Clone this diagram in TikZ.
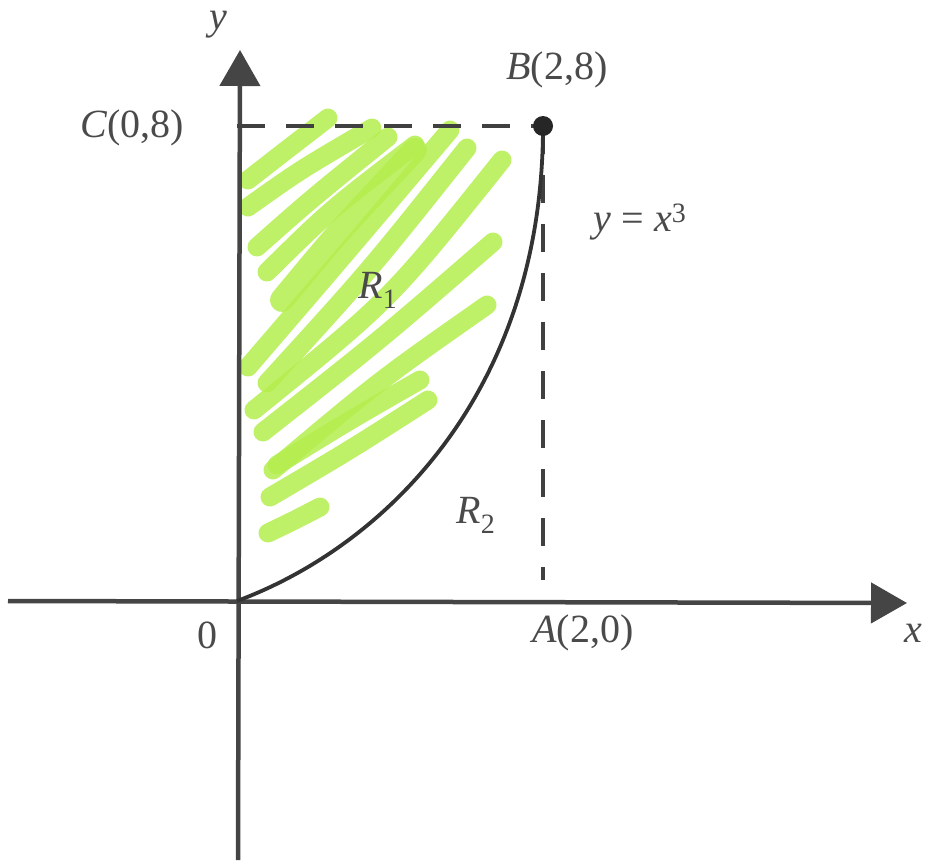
\documentclass[tikz,border=0pt]{standalone}
\usepackage{fontspec}
\setmainfont{Liberation Serif}
\usetikzlibrary{arrows.meta}
\definecolor{axisgray}{HTML}{454545}
\definecolor{limehl}{HTML}{B4EE4E}
\definecolor{txtgray}{HTML}{4A4A4A}
\tikzset{
  axisline/.style={line width=4.5pt, draw=axisgray, -{Triangle[length=36pt,width=40pt]}},
  curveline/.style={line width=3.8pt, draw=black!80},
  dashline/.style={line width=4.5pt, draw=black!75, dash pattern=on 28pt off 21pt},
  hl/.style={draw=limehl, line width=19pt, line cap=round, opacity=0.85},
  lbl/.style={text=txtgray, font=\fontsize{40}{44}\selectfont, inner sep=0pt}
}
\begin{document}
\begin{tikzpicture}[x=1pt,y=-1pt]
\useasboundingbox (0,0) rectangle (932,860);
% highlighter strokes
\draw[hl] (248,180) .. controls (280,155) .. (328,118);
\draw[hl] (248,207) .. controls (300,170) .. (372,128);
\draw[hl] (257,247) .. controls (310,200) .. (388,137);
\draw[hl] (267,272) .. controls (330,210) .. (415,145);
\draw[hl, line width=24pt] (282,300) .. controls (340,230) .. (415,150);
\draw[hl] (248,367) .. controls (340,260) .. (450,130);
\draw[hl] (267,383) .. controls (370,270) .. (467,148);
\draw[hl] (254,410) .. controls (390,300) .. (502,160);
\draw[hl] (263,432) .. controls (380,340) .. (493,242);
\draw[hl] (273,470) .. controls (380,380) .. (487,305);
\draw[hl] (270,497) .. controls (350,450) .. (428,400);
\draw[hl] (277,465) .. controls (350,420) .. (420,380);
\draw[hl] (268,533) .. controls (295,520) .. (320,507);
% coordinates
\coordinate (O) at (237,601);
\coordinate (A) at (543,601);
\coordinate (Atop) at (543,580);
\coordinate (B) at (543,126);
\coordinate (C) at (237,126);
\coordinate (ybot) at (238,860);
\coordinate (ytop) at (240,50);
\coordinate (xleft) at (8,601);
\coordinate (xtip) at (907,603);
% axes
\draw[axisline] (ybot) -- (ytop);
\draw[axisline] (xleft) -- (xtip);
% dashed lines
\draw[dashline] (C) -- (B);
\draw[dashline] (B) -- (Atop);
% curve
\draw[curveline] (O) .. controls (390,544) and (543,387) .. (B);
\fill[black!85] (B) circle[radius=10pt];
% labels
\node[lbl] (ylab) at (218,25) {\textit{y}};
\node[lbl] (xlab) at (913,633) {\textit{x}};
\node[lbl] (olab) at (207,635) {0};
\node[lbl] (alab) at (583,633) {\textit{A}(2,0)};
\node[lbl] (blab) at (557,70) {\textit{B}(2,8)};
\node[lbl] (clab) at (132,128) {\textit{C}(0,8)};
\node[lbl] (eqlab) at (640,222) {\textit{y} = \textit{x}\textsuperscript{3}};
\node[lbl] (r1) at (378,290) {\textit{R}\textsubscript{1}};
\node[lbl] (r2) at (476,515) {\textit{R}\textsubscript{2}};
\end{tikzpicture}
\end{document}
